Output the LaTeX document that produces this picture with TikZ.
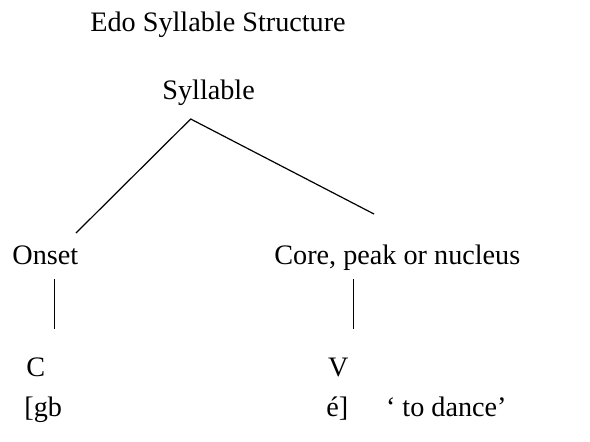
\documentclass[tikz,border=0pt]{standalone}
\usepackage{fontspec}
\setmainfont{Liberation Serif}
\usepackage{tikz}
\usetikzlibrary{positioning}

\begin{document}
\begin{tikzpicture}[
    x=0.5pt, y=-0.5pt,
    every node/.style={
        anchor=base west,
        inner sep=0pt,
        font=\fontsize{14.1}{17}\selectfont
    },
    branch/.style={line width=0.6pt}
]
\useasboundingbox (0,0) rectangle (590,441);

\node (title) at (90,31) {Edo Syllable Structure};

\node (syllable) at (162,99) {Syllable};

\node (onset) at (12,264) {Onset};
\node (core) at (274,264) {Core, peak or nucleus};

\node (cons) at (26,376) {C};
\node (vowel) at (327.7,376) {V};

\node (gb) at (24,416) {[gb};
\node (e) at (326,416) {é]};
\node (gloss) [anchor=base east] at (507,416) {‘ to dance’};

% branch ends
\coordinate (apex) at (190.7,119);
\coordinate (onset-end) at (76,233);
\coordinate (core-end) at (374,214);
\coordinate (onset-down) at (54.5,279);
\coordinate (c-up) at (54.5,329);
\coordinate (core-down) at (353.3,279);
\coordinate (v-up) at (353.3,329);

\draw[branch] (onset-end) -- (apex) -- (core-end);
\draw[branch] (onset-down) -- (c-up);
\draw[branch] (core-down) -- (v-up);

\end{tikzpicture}
\end{document}
